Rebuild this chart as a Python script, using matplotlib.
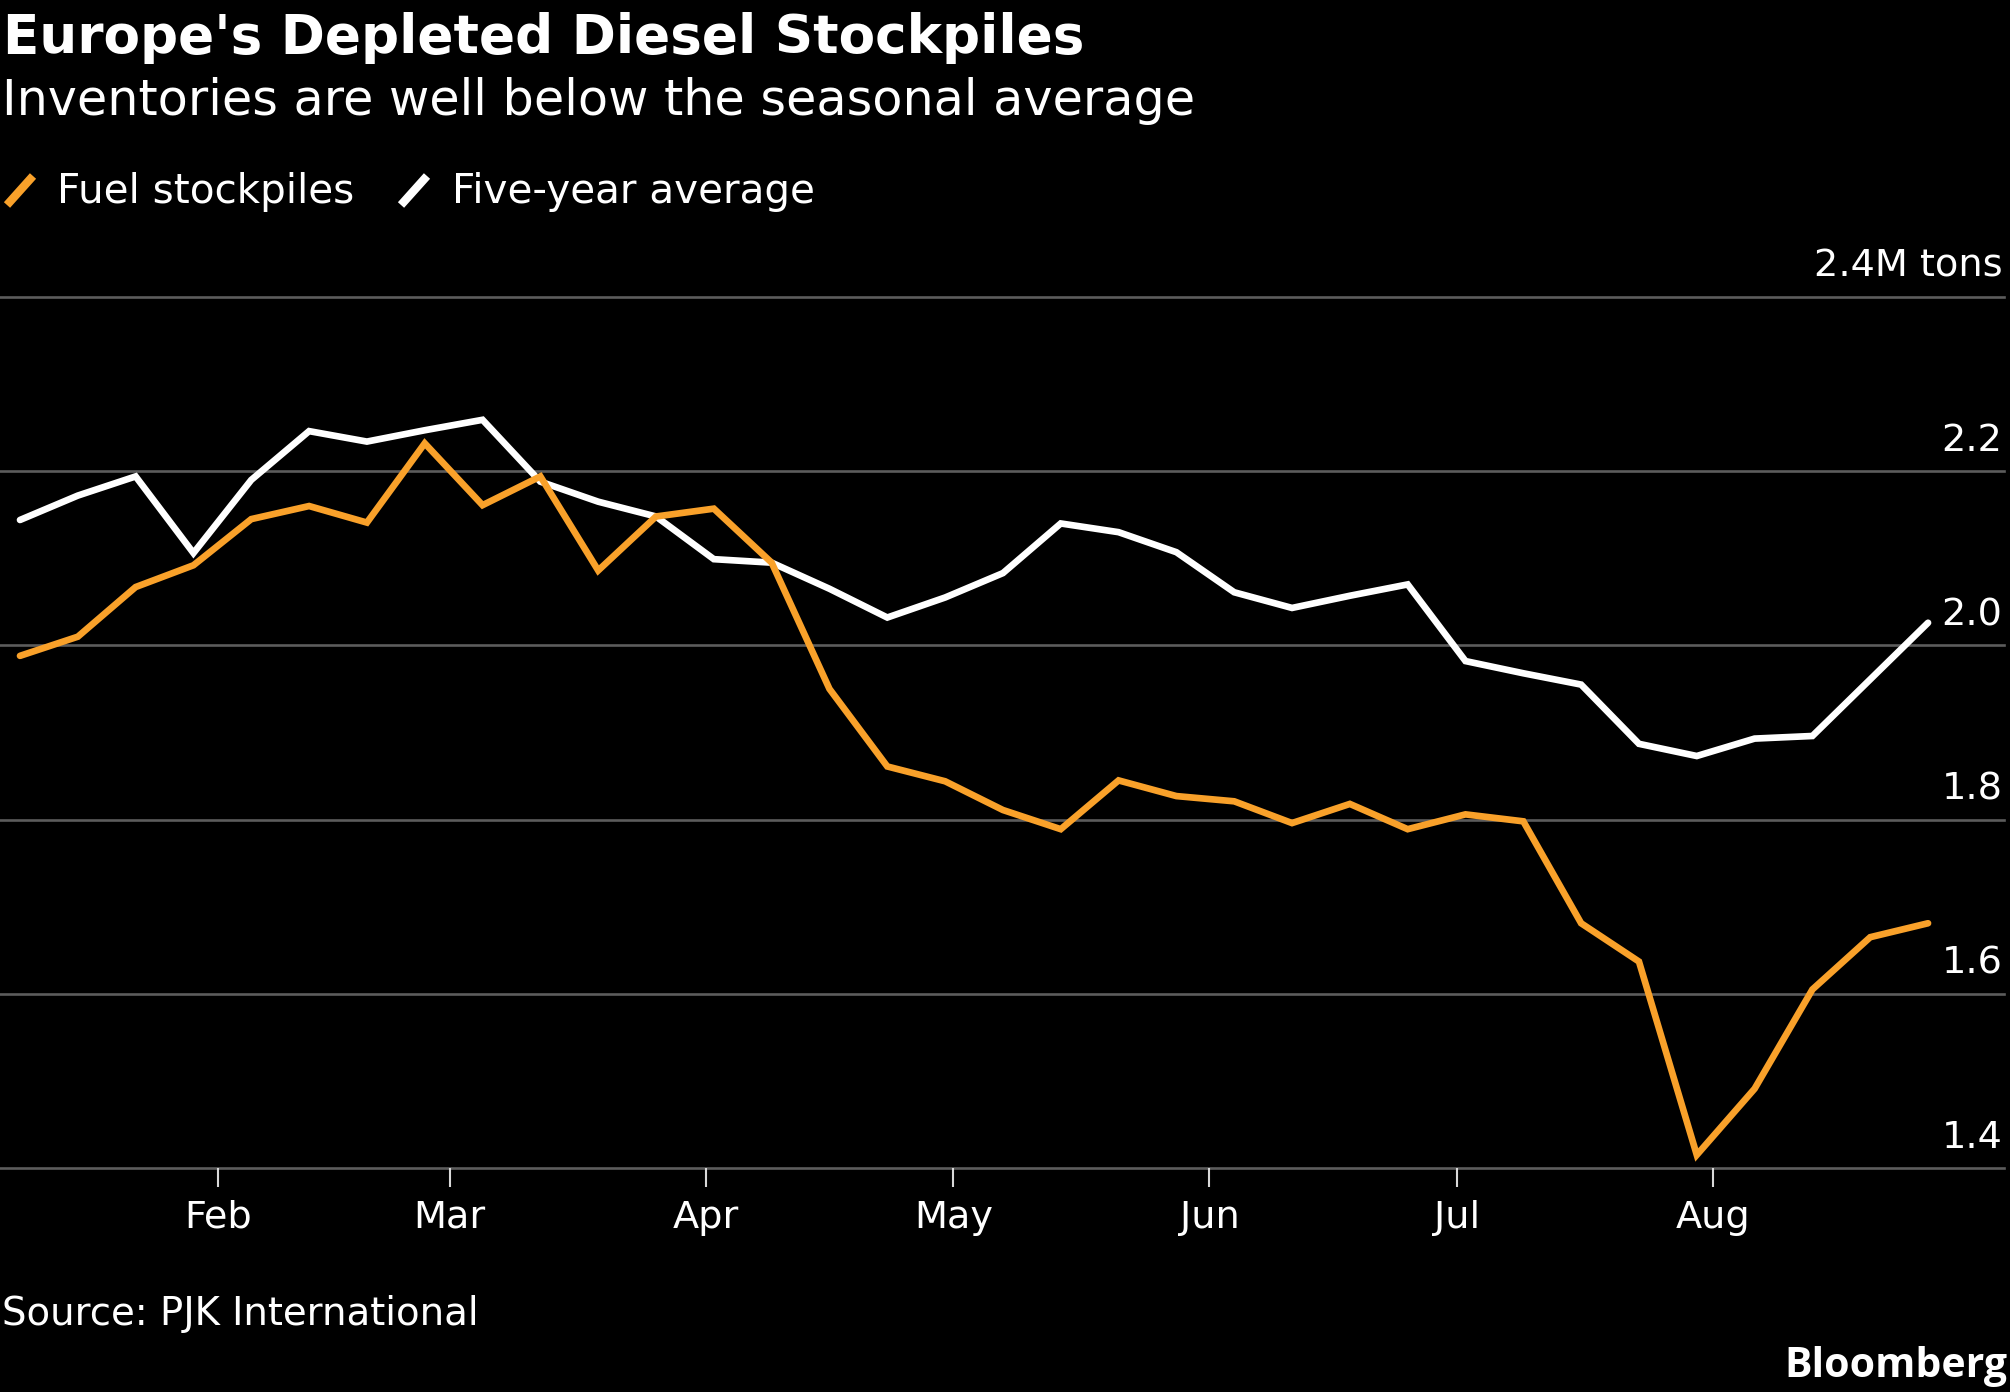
import matplotlib
matplotlib.use("Agg")
import matplotlib.pyplot as plt
import matplotlib.transforms as mtransforms
from matplotlib.lines import Line2D
import pandas as pd

# ---------------- data ----------------
start_date = "2022-01-08"
n_weeks = 34
fuel_stockpiles = [1.988, 2.010, 2.067, 2.092, 2.145, 2.160, 2.141, 2.232, 2.161, 2.194,
                   2.086, 2.148, 2.157, 2.095, 1.950, 1.861, 1.844, 1.811, 1.789, 1.845,
                   1.827, 1.821, 1.796, 1.818, 1.789, 1.806, 1.798, 1.681, 1.637, 1.415,
                   1.491, 1.605, 1.665, 1.681]
five_year_avg = [2.144, 2.172, 2.194, 2.106, 2.190, 2.246, 2.234, 2.247, 2.259, 2.188,
                 2.165, 2.148, 2.099, 2.095, 2.065, 2.032, 2.055, 2.083, 2.140, 2.130,
                 2.107, 2.061, 2.043, 2.057, 2.070, 1.982, 1.968, 1.955, 1.887, 1.873,
                 1.893, 1.896, 1.961, 2.026]
y_ticks = [1.4, 1.6, 1.8, 2.0, 2.2, 2.4]
y_tick_labels = ["1.4", "1.6", "1.8", "2.0", "2.2", "2.4M tons"]
month_ticks = ["2022-02-01", "2022-03-01", "2022-04-01", "2022-05-01",
               "2022-06-01", "2022-07-01", "2022-08-01"]
month_labels = ["Feb", "Mar", "Apr", "May", "Jun", "Jul", "Aug"]

title = "Europe's Depleted Diesel Stockpiles"
subtitle = "Inventories are well below the seasonal average"
legend_labels = ["Fuel stockpiles", "Five-year average"]
source = "Source: PJK International"

# ---------------- style ----------------
W, H = 2010, 1392
ORANGE = "#F9A12A"
WHITE = "#FFFFFF"
GRID = "#5c5c5c"
BG = "#000000"

plt.rcParams["font.family"] = ["DejaVu Sans"]

fig = plt.figure(figsize=(W / 100, H / 100), dpi=100, facecolor=BG)


def fx(x):
    return x / W


def fy(y):
    return 1 - y / H


dates = pd.date_range(start_date, periods=n_weeks, freq="7D")
px_per_day = 8.26
x0 = pd.Timestamp(start_date)
left_lim = x0 - pd.Timedelta(days=20 / px_per_day)
right_lim = x0 + pd.Timedelta(days=(2004 - 20) / px_per_day)

ax_left, ax_right = 0, 2004
ax_top, ax_bot = 297, 1168
ax = fig.add_axes([fx(ax_left), fy(ax_bot), (ax_right - ax_left) / W, (ax_bot - ax_top) / H])
ax.set_facecolor(BG)

ax.plot(dates, five_year_avg, color=WHITE, lw=4.8, solid_joinstyle="miter",
        solid_capstyle="round", zorder=3)
ax.plot(dates, fuel_stockpiles, color=ORANGE, lw=4.8, solid_joinstyle="miter",
        solid_capstyle="round", zorder=4)

ax.set_xlim(left_lim, right_lim)
ax.set_ylim(1.4, 2.4)

for v in y_ticks:
    ax.axhline(v, color=GRID, lw=1.9, clip_on=False, zorder=1)

for s in ax.spines.values():
    s.set_visible(False)
ax.set_yticks([])

trans = mtransforms.blended_transform_factory(ax.transAxes, ax.transData)
for v, lab in zip(y_ticks, y_tick_labels):
    ax.annotate(lab, xy=(1.0, v), xycoords=trans, xytext=(-1, 14.4),
                textcoords="offset points", ha="right", va="baseline",
                color=WHITE, fontsize=27.5, annotation_clip=False)

ax.set_xticks(pd.to_datetime(month_ticks))
ax.set_xticklabels(month_labels)
ax.tick_params(axis="x", direction="out", length=13.7, width=1.5, color="#d8d8d8",
               labelsize=27.5, labelcolor=WHITE, pad=9)

# title / subtitle
fig.text(fx(3), fy(53), title, color=WHITE, fontsize=38.3, fontweight="bold",
         ha="left", va="baseline")
fig.text(fx(2), fy(115), subtitle, color=WHITE, fontsize=35.5,
         ha="left", va="baseline")

# legend
fig.add_artist(Line2D([fx(7), fx(33)], [fy(205), fy(176)], color=ORANGE, lw=6,
                      solid_capstyle="butt", transform=fig.transFigure))
fig.add_artist(Line2D([fx(401), fx(427)], [fy(205), fy(176)], color=WHITE, lw=6,
                      solid_capstyle="butt", transform=fig.transFigure))
fig.text(fx(57), fy(203), legend_labels[0], color=WHITE, fontsize=29.2,
         ha="left", va="baseline")
fig.text(fx(452), fy(203), legend_labels[1], color=WHITE, fontsize=29.2,
         ha="left", va="baseline")

# footer
fig.text(fx(2), fy(1325), source, color=WHITE, fontsize=27.8, ha="left", va="baseline")
fig.text(fx(2007), fy(1377), "Bloomberg", color=WHITE, fontsize=29.5, fontweight="bold",
         family=["Open Sans", "DejaVu Sans"], ha="right", va="baseline")

fig.savefig("out.png", dpi=100, facecolor=BG)
